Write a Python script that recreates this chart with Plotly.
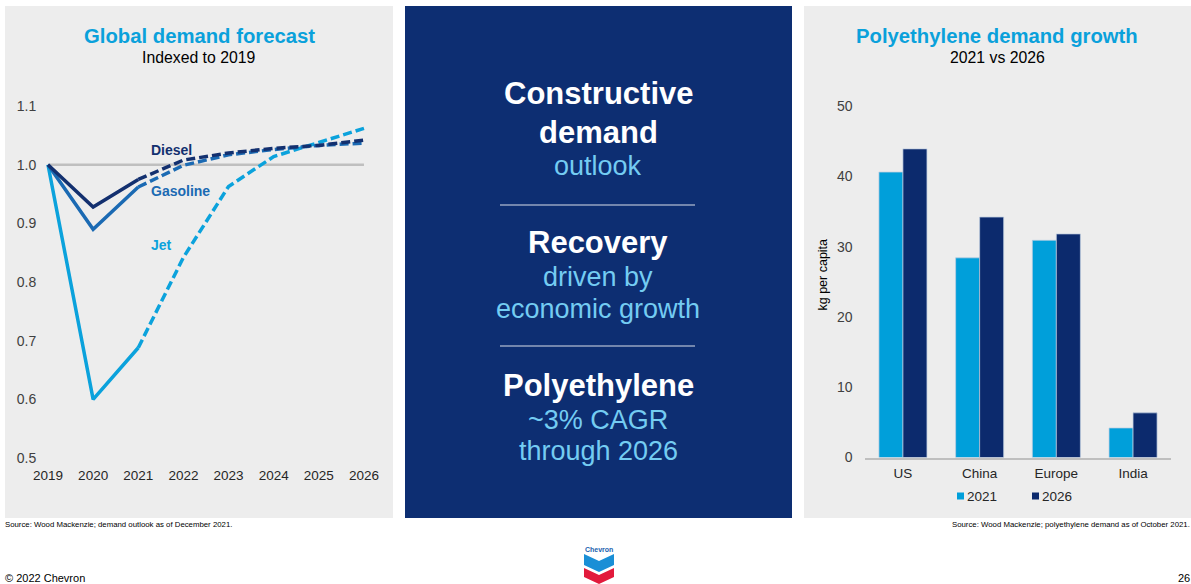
import plotly.graph_objects as go

# ---- Global demand forecast (indexed to 2019) ----
years_hist = [2019, 2020, 2021]
years_fcst = [2021, 2022, 2023, 2024, 2025, 2026]
diesel_hist = [1.0, 0.928, 0.975]
diesel_fcst = [0.975, 1.008, 1.020, 1.028, 1.033, 1.042]
gasoline_hist = [1.0, 0.890, 0.962]
gasoline_fcst = [0.962, 0.999, 1.017, 1.026, 1.033, 1.037]
jet_hist = [1.0, 0.600, 0.688]
jet_fcst = [0.688, 0.842, 0.963, 1.014, 1.038, 1.062]
index_base = 1.0
year_ticks = [2019, 2020, 2021, 2022, 2023, 2024, 2025, 2026]
index_ticks = [0.5, 0.6, 0.7, 0.8, 0.9, 1.0, 1.1]

# ---- Polyethylene demand growth, kg per capita ----
regions = ["US", "China", "Europe", "India"]
pe_2021 = [40.6, 28.4, 30.9, 4.2]
pe_2026 = [43.9, 34.2, 31.8, 6.35]
kg_ticks = [0, 10, 20, 30, 40, 50]

W, H = 1191, 584
FONT = "Liberation Sans, Arial, sans-serif"

C_JET = "#0BA2DC"
C_GAS = "#1B6AB3"
C_DIESEL = "#13306F"
C_NAVY = "#0D2E72"
C_PANEL = "#EDEDED"
C_TITLE = "#0AA1DB"
C_SUB = "#74CCF2"
C_BAR21 = "#009FDA"
C_BAR26 = "#0C2A6D"


def px(x):
    return x / W


def py(y):
    return 1 - y / H


fig = go.Figure()

# reference line at the 2019 index level
fig.add_trace(go.Scatter(x=[year_ticks[0], year_ticks[-1]], y=[index_base, index_base],
                         mode="lines", line=dict(color="#BFBFBF", width=2.5),
                         showlegend=False, hoverinfo="skip", xaxis="x", yaxis="y"))

series = [
    ("Jet", jet_hist, jet_fcst, C_JET),
    ("Gasoline", gasoline_hist, gasoline_fcst, C_GAS),
    ("Diesel", diesel_hist, diesel_fcst, C_DIESEL),
]
for name, hist, fcst, col in series:
    fig.add_trace(go.Scatter(x=years_hist, y=hist, mode="lines", name=name,
                             line=dict(color=col, width=3.5), showlegend=False,
                             xaxis="x", yaxis="y"))
    fig.add_trace(go.Scatter(x=years_fcst, y=fcst, mode="lines", name=name + " forecast",
                             line=dict(color=col, width=3.5, dash="9px,4px"),
                             showlegend=False, xaxis="x", yaxis="y"))

bar_edge = dict(color="rgba(190,205,225,0.9)", width=0.8)
fig.add_trace(go.Bar(x=regions, y=pe_2021, name="2021", marker=dict(color=C_BAR21, line=bar_edge),
                     showlegend=False, xaxis="x2", yaxis="y2"))
fig.add_trace(go.Bar(x=regions, y=pe_2026, name="2026", marker=dict(color=C_BAR26, line=bar_edge),
                     showlegend=False, xaxis="x2", yaxis="y2"))

# axis geometry (pixel-based domains)
yr_px = 45.14
x1_lo, x1_hi = 2018.85, 2026.15
x1_dom = [px(48 + (x1_lo - 2019) * yr_px), px(48 + (x1_hi - 2019) * yr_px)]
y1_lo, y1_hi = 0.5, 1.15
y1_dom = [py(458), py(458 - (y1_hi - y1_lo) * 586.5)]

x2_dom = [px(864.6), px(1171.4)]
y2_hi = 52
y2_dom = [py(457.5), py(457.5 - y2_hi * 7.03)]

shapes = [
    dict(type="rect", xref="paper", yref="paper", x0=px(5), x1=px(393), y0=py(518), y1=py(6),
         fillcolor=C_PANEL, line=dict(width=0), layer="below"),
    dict(type="rect", xref="paper", yref="paper", x0=px(405), x1=px(792), y0=py(518), y1=py(6),
         fillcolor=C_NAVY, line=dict(width=0), layer="below"),
    dict(type="rect", xref="paper", yref="paper", x0=px(804), x1=px(1191), y0=py(518), y1=py(6),
         fillcolor=C_PANEL, line=dict(width=0), layer="below"),
    dict(type="line", xref="paper", yref="paper", x0=px(500), x1=px(695), y0=py(205), y1=py(205),
         line=dict(color="#D9DEE8", width=1.2)),
    dict(type="line", xref="paper", yref="paper", x0=px(500), x1=px(695), y0=py(346), y1=py(346),
         line=dict(color="#D9DEE8", width=1.2)),
]

# legend keys for the bar chart
for x0, col in [(957, C_BAR21), (1032, C_BAR26)]:
    shapes.append(dict(type="rect", xref="paper", yref="paper", x0=px(x0), x1=px(x0 + 7),
                       y0=py(499.5), y1=py(492.5), fillcolor=col, line=dict(width=0)))


# Chevron logo: blue and red chevron bands
def chevron_path(top_edge, top_mid, bot_edge, bot_mid, x0=584, x1=614):
    xm = (x0 + x1) / 2
    pts = [(x0, top_edge), (xm, top_mid), (x1, top_edge), (x1, bot_edge), (xm, bot_mid), (x0, bot_edge)]
    return "M " + " L ".join(f"{px(x)},{py(y)}" for x, y in pts) + " Z"


shapes.append(dict(type="path", xref="paper", yref="paper",
                   path=chevron_path(554, 561, 565, 572), fillcolor="#1A8FD6", line=dict(width=0)))
shapes.append(dict(type="path", xref="paper", yref="paper",
                   path=chevron_path(568, 575, 577, 584), fillcolor="#E21A3C", line=dict(width=0)))

annotations = []


def text(x, y, s, size, color="#000000", bold=False, xanchor="center"):
    annotations.append(dict(
        x=px(x), y=py(y), xref="paper", yref="paper",
        text=f"<b>{s}</b>" if bold else s, showarrow=False,
        xanchor=xanchor, yanchor="middle",
        font=dict(family=FONT, size=size, color=color)))


# panel titles
text(199, 36, "Global demand forecast", 20.3, C_TITLE, bold=True)
text(199, 57, "Indexed to 2019", 15.8, "#000000")
text(997, 36, "Polyethylene demand growth", 20.3, C_TITLE, bold=True)
text(997, 57, "2021 vs 2026", 15.8, "#000000")

# series labels in the line chart
for label, yv, col in [("Diesel", 1.025, C_DIESEL), ("Gasoline", 0.955, C_GAS), ("Jet", 0.863, C_JET)]:
    annotations.append(dict(x=2021.24, y=yv, xref="x", yref="y", text=f"<b>{label}</b>",
                            showarrow=False, xanchor="left", yanchor="middle",
                            font=dict(family=FONT, size=14, color=col)))

# bar legend labels
text(965, 496, "2021", 13.5, "#262626", xanchor="left")
text(1040, 496, "2026", 13.5, "#262626", xanchor="left")

# centre panel messages
cx = 598
text(cx, 94, "Constructive", 31, "#FFFFFF", bold=True)
text(cx, 132, "demand", 31, "#FFFFFF", bold=True)
text(cx, 166, "outlook", 27, C_SUB)
text(cx, 243, "Recovery", 31, "#FFFFFF", bold=True)
text(cx, 277, "driven by", 27, C_SUB)
text(cx, 309, "economic growth", 27, C_SUB)
text(cx, 385, "Polyethylene", 31, "#FFFFFF", bold=True)
text(cx, 420, "~3% CAGR", 27, C_SUB)
text(cx, 451, "through 2026", 27, C_SUB)

# footers
text(2.5, 524, "Source: Wood Mackenzie; demand outlook as of December 2021.", 7.8, "#000000", xanchor="left")
text(1192, 524, "Source: Wood Mackenzie; polyethylene demand as of October 2021.", 7.8, "#000000",
     xanchor="right")
text(3, 578, "© 2022 Chevron", 11, "#000000", xanchor="left")
text(1191.5, 578, "26", 11, "#000000", xanchor="right")
text(599, 549, "<b>Chevron</b>", 7, "#1B5FAE")

fig.update_layout(
    width=W, height=H,
    margin=dict(l=0, r=0, t=0, b=0, autoexpand=False),
    paper_bgcolor="#FFFFFF", plot_bgcolor="rgba(0,0,0,0)",
    font=dict(family=FONT),
    barmode="group", bargap=0.374, bargroupgap=0,
    shapes=shapes, annotations=annotations,
    showlegend=False,
    xaxis=dict(domain=x1_dom, range=[x1_lo, x1_hi], tickvals=year_ticks,
               ticktext=[str(y) for y in year_ticks], showgrid=False, zeroline=False,
               showline=False, ticks="", ticklabelstandoff=7, automargin=False,
               tickfont=dict(family=FONT, size=13.5, color="#262626"), fixedrange=True),
    yaxis=dict(domain=y1_dom, range=[y1_lo, y1_hi], tickvals=index_ticks,
               ticktext=[f"{v:.1f}" for v in index_ticks], showgrid=False, zeroline=False,
               showline=False, ticks="", ticklabelstandoff=4, automargin=False,
               tickfont=dict(family=FONT, size=14, color="#404040"), fixedrange=True),
    xaxis2=dict(domain=x2_dom, range=[-0.5, 3.5], showgrid=False, zeroline=False,
                showline=True, linecolor="#BFBFBF", linewidth=2, ticks="", ticklabelstandoff=2,
                automargin=False, tickfont=dict(family=FONT, size=13.5, color="#262626"),
                anchor="y2", fixedrange=True),
    yaxis2=dict(domain=y2_dom, range=[0, y2_hi], tickvals=kg_ticks, showgrid=False,
                zeroline=False, showline=False, ticks="", ticklabelstandoff=11, automargin=False,
                tickfont=dict(family=FONT, size=14, color="#404040"), anchor="x2",
                title=dict(text="kg per capita", font=dict(family=FONT, size=12.5, color="#000000"),
                           standoff=6), fixedrange=True),
)

fig.write_html("out.html")
